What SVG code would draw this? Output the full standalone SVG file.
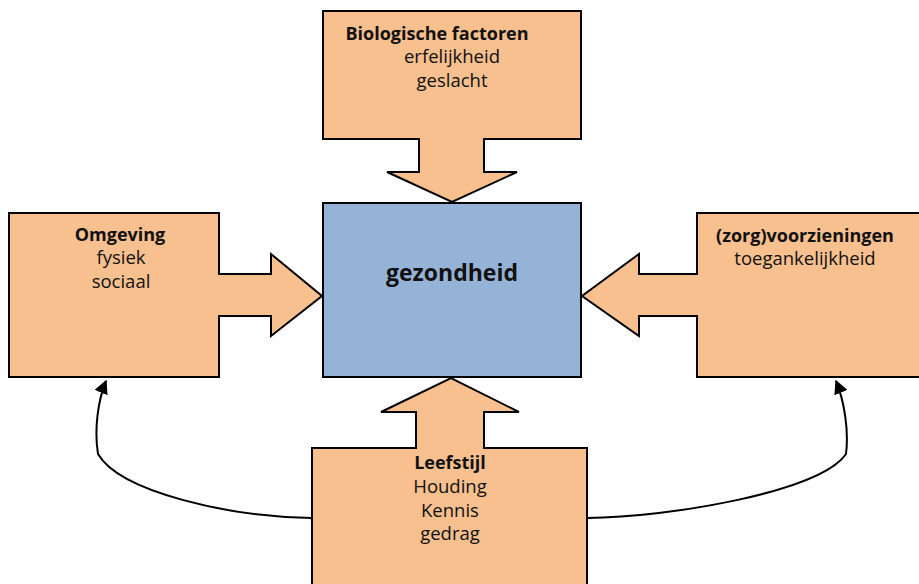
<svg xmlns="http://www.w3.org/2000/svg" width="919" height="584" viewBox="0 0 919 584">
<style>
.box{fill:#F8BF8F;stroke:#000;stroke-width:2;stroke-linejoin:miter}
.center{fill:#95B3D7;stroke:#000;stroke-width:2}
text{font-family:"Open Sans","Noto Sans","Liberation Sans",sans-serif;font-size:18.5px;fill:#111;text-anchor:middle}
.b{font-weight:bold;font-size:18px}
.big{font-size:23px;font-weight:bold}
.conn{fill:none;stroke:#000;stroke-width:2}
</style>
<defs>
<marker id="ah" viewBox="0 0 10 10" refX="9" refY="5" markerWidth="7" markerHeight="7" orient="auto" markerUnits="strokeWidth">
<path d="M0,0 L10,5 L0,10 z" fill="#000"/>
</marker>
</defs>
<rect width="919" height="584" fill="#fff"/>
<g id="connectors">
<path class="conn" d="M312,518 C230,517 120,492 98,454 C94,430 98,400 106,381" marker-end="url(#ah)"/>
<path class="conn" d="M587,518 C670,517 820,492 846,454 C849,430 844,400 836,381" marker-end="url(#ah)"/>
</g>
<g id="gezondheid">
<rect class="center" x="323" y="203" width="258" height="174"/>
<text class="big" x="452" y="281">gezondheid</text>
</g>
<g id="biologische-factoren">
<path class="box" d="M323,11 H581 V139 H484 V172 H517 L452,202 L387,172 H419 V139 H323 Z"/>
<text class="b" x="437" y="40">Biologische factoren</text>
<text x="452" y="63">erfelijkheid</text>
<text x="452" y="87">geslacht</text>
</g>
<g id="omgeving">
<path class="box" d="M9,213 H219 V274 H271 V254 L322,296 L271,336 V316 H219 V377 H9 Z"/>
<text class="b" x="120" y="241">Omgeving</text>
<text x="121" y="264">fysiek</text>
<text x="121" y="288">sociaal</text>
</g>
<g id="zorgvoorzieningen">
<path class="box" d="M925,213 H697 V274 H639 V254 L582,296 L639,336 V316 H697 V377 H925 Z"/>
<text class="b" x="805" y="242">(zorg)voorzieningen</text>
<text x="805" y="265">toegankelijkheid</text>
</g>
<g id="leefstijl">
<path class="box" d="M312,590 V448 H416 V412 H381 L451,378 L519,412 H484 V448 H587 V590 Z"/>
<text class="b" x="450" y="469">Leefstijl</text>
<text x="450" y="493">Houding</text>
<text x="450" y="517">Kennis</text>
<text x="450" y="540">gedrag</text>
</g>
</svg>
